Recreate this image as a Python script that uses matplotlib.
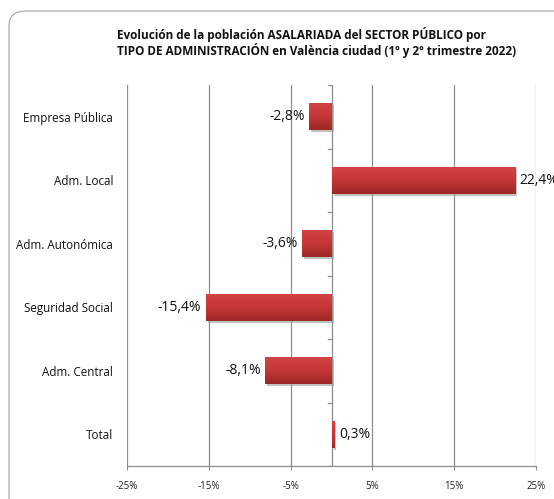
import matplotlib.pyplot as plt
import numpy as np
from matplotlib.patches import FancyBboxPatch
from matplotlib.colors import LinearSegmentedColormap
import matplotlib.patheffects as pe

categorias = ["Total", "Adm. Central", "Seguridad Social", "Adm. Autonómica",
              "Adm. Local", "Empresa Pública"]
valores = [0.3, -8.1, -15.4, -3.6, 22.4, -2.8]
xticks = [-25, -15, -5, 5, 15, 25]

plt.rcParams["font.family"] = ["Open Sans", "DejaVu Sans"]

W, H = 554, 499
fig = plt.figure(figsize=(W / 100, H / 100), dpi=100)

# marco redondeado
marco = FancyBboxPatch((9 / W, 1 - 520 / H), 600 / W, 509 / H,
                       boxstyle="round,pad=0,rounding_size=0.03",
                       transform=fig.transFigure, facecolor="none",
                       edgecolor="#b4b4b4", linewidth=1.0, clip_on=False)
fig.patches.append(marco)

ax = fig.add_axes([127 / W, 1 - 466 / H, (536 - 127) / W, (466 - 85) / H])
y = np.arange(len(categorias))
ax.set_xlim(-25, 25)
ax.set_ylim(-0.5, len(categorias) - 0.5)

gris = "#8e8e8e"
for xt in xticks:
    ax.axvline(xt, color=gris, linewidth=0.9, zorder=1)
ax.axvline(0, color=gris, linewidth=0.9, zorder=1)
for b in np.arange(-0.5, len(categorias), 1.0):
    ax.plot([-0.45, 0], [b, b], color=gris, linewidth=0.9, zorder=1)

barras = ax.barh(y, valores, height=0.42, color="#c23535", zorder=3,
                 path_effects=[pe.SimplePatchShadow(offset=(1.5, -1.5),
                                                    shadow_rgbFace="#9a9a9a",
                                                    alpha=0.6),
                               pe.Normal()])
cmap = LinearSegmentedColormap.from_list("rojo", ["#9c2727", "#c53737", "#d24444"])
grad = np.linspace(0, 1, 64).reshape(-1, 1)
for barra in barras:
    x0, y0 = barra.get_x(), barra.get_y()
    w, h = barra.get_width(), barra.get_height()
    ax.imshow(grad, extent=[x0, x0 + w, y0, y0 + h], cmap=cmap,
              aspect="auto", origin="lower", zorder=4)

for yi, v in zip(y, valores):
    txt = f"{v:.1f}%".replace(".", ",")
    if v < 0:
        ax.text(v - 0.5, yi, txt, ha="right", va="center", fontsize=10,
                color="#111111", zorder=5)
    else:
        ax.text(v + 0.6, yi, txt, ha="left", va="center", fontsize=10,
                color="#111111", zorder=5, clip_on=False)

ax.set_xticks(xticks)
ax.set_xticklabels([f"{t}%" for t in xticks], fontsize=7, color="#222222")
ax.tick_params(axis="x", length=3, color=gris, pad=8)
ax.set_yticks(y)
ax.set_yticklabels(categorias, fontsize=8.4, color="#111111")
ax.tick_params(axis="y", length=0, pad=10)
for s in ["top", "right", "left"]:
    ax.spines[s].set_visible(False)
ax.spines["bottom"].set_color(gris)
ax.spines["bottom"].set_linewidth(0.9)

fig.text(117 / W, 1 - 34 / H,
         "Evolución de la población ASALARIADA del SECTOR PÚBLICO por",
         fontsize=8.5, fontweight="bold", ha="left", va="center", color="#111111")
fig.text(117 / W, 1 - 50 / H,
         "TIPO DE ADMINISTRACIÓN en València ciudad (1º y 2º trimestre 2022)",
         fontsize=8.5, fontweight="bold", ha="left", va="center", color="#111111")

fig.savefig("out.png", dpi=100)
